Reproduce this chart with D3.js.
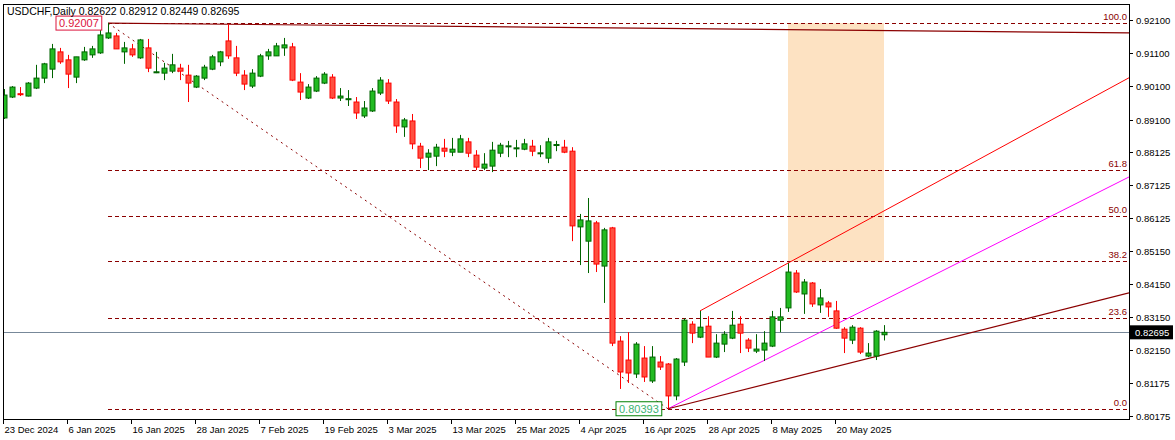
<!DOCTYPE html>
<html><head><meta charset="utf-8">
<script src="https://cdn.jsdelivr.net/npm/d3@7/dist/d3.min.js"></script>
<style>body{margin:0;background:#fff}text{font-family:"Liberation Sans",Arial,sans-serif;font-size:9.5px}</style>
</head><body><div id="chart"></div>
<script>
// OHLC per daily bar
const ohlc=[
[.8915,.9002,.8912,.8984],[.8978,.9011,.8975,.9008],[.8988,.9008,.8981,.8985],[.8981,.9023,.8980,.9020],
[.9005,.9075,.9002,.9035],[.9035,.9081,.9020,.9078],[.9062,.9138,.9035,.9123],[.9114,.9126,.9078,.9084],
[.9090,.9105,.9005,.9047],[.9038,.9099,.9020,.9099],[.9090,.9129,.9087,.9114],[.9105,.9132,.9096,.9123],
[.9111,.9189,.9108,.9165],[.9156,.92007,.9153,.9171],[.9162,.9171,.9123,.9123],[.9114,.9144,.9078,.9126],
[.9123,.9138,.9099,.9105],[.9096,.9153,.9093,.9150],[.9126,.9153,.9053,.9065],[.9052,.9114,.9050,.9054],
[.9050,.9081,.9029,.9065],[.9056,.9108,.9050,.9075],[.9065,.9078,.9029,.9056],[.9044,.9075,.8963,.9020],
[.9008,.9044,.9005,.9041],[.9035,.9075,.9029,.9068],[.9062,.9105,.9059,.9099],[.9084,.9117,.9071,.9114],
[.9147,.9198,.9093,.9102],[.9096,.9132,.9041,.9050],[.9044,.9059,.8999,.9017],[.9011,.9062,.9005,.9050],
[.9041,.9108,.9038,.9102],[.9102,.9123,.9090,.9114],[.9102,.9141,.9102,.9132],[.9126,.9156,.9102,.9135],
[.9129,.9141,.9026,.9029],[.9023,.9050,.8969,.8993],[.8975,.9017,.8972,.9008],[.8996,.9041,.8993,.9035],
[.9020,.9053,.9017,.9047],[.9038,.9047,.8972,.8975],[.8975,.9005,.8966,.8981],[.8971,.8999,.8951,.8973],
[.8963,.8978,.8912,.8930],[.8921,.8966,.8915,.8945],[.8936,.9005,.8933,.8996],[.8990,.9038,.8984,.9029],
[.9020,.9032,.8957,.8966],[.8963,.8972,.8870,.8891],[.8888,.8915,.8858,.8909],[.8906,.8927,.8821,.8837],
[.8830,.8840,.8764,.8794],[.8797,.8821,.8758,.8809],[.8800,.8837,.8770,.8827],[.8824,.8852,.8797,.8815],
[.8812,.8855,.8800,.8821],[.8812,.8864,.8812,.8852],[.8843,.8855,.8797,.8809],[.8803,.8818,.8758,.8767],
[.8764,.8809,.8758,.8776],[.8770,.8843,.8752,.8818],[.8809,.8840,.8797,.8833],[.8829,.8846,.8797,.8831],
[.8824,.8849,.8797,.8825],[.8821,.8852,.8818,.8837],[.8830,.8849,.8800,.8815],[.8808,.8833,.8797,.8810],
[.8794,.8855,.8779,.8843],[.8833,.8846,.8815,.8835],[.8827,.8849,.8809,.8812],[.8815,.8827,.8544,.8590],
[.8587,.8626,.8472,.8608],[.8544,.8674,.8448,.8605],[.8599,.8605,.8451,.8475],[.8469,.8584,.8358,.8578],
[.8584,.8587,.8228,.8237],[.8243,.8258,.8099,.8150],[.8186,.8270,.8117,.8147],[.8144,.8240,.8132,.8234],
[.8192,.8228,.8120,.8135],[.8123,.8228,.8117,.8195],[.8180,.8198,.8156,.8165],[.8174,.8177,.80393,.8078],
[.8078,.8192,.8065,.8189],[.8180,.8312,.8168,.8306],[.8294,.8303,.8237,.8267],[.8255,.8334,.8252,.8285],
[.8288,.8318,.8195,.8195],[.8195,.8264,.8192,.8237],[.8234,.8273,.8210,.8264],[.8252,.8334,.8249,.8291],
[.8294,.8318,.8207,.8267],[.8246,.8252,.8210,.8222],[.8213,.8264,.8207,.8219],[.8216,.8273,.8183,.8237],
[.8228,.8334,.8225,.8316],[.8306,.8343,.8270,.8316],[.8343,.8478,.8331,.8451],[.8448,.8457,.8388,.8391],
[.8385,.8430,.8325,.8421],[.8418,.8421,.8346,.8355],[.8352,.8400,.8328,.8373],[.8358,.8364,.8316,.8346],
[.8334,.8364,.8280,.8282],[.8279,.8285,.8207,.8252],[.8246,.8291,.8234,.8285],[.8282,.8285,.8204,.8210],
[.8198,.8237,.8195,.8207],[.8198,.8276,.8186,.8273],[.82622,.82912,.82449,.82695]];
const dateLabels=["23 Dec 2024","6 Jan 2025","16 Jan 2025","28 Jan 2025","7 Feb 2025","19 Feb 2025","3 Mar 2025","13 Mar 2025","25 Mar 2025","4 Apr 2025","16 Apr 2025","28 Apr 2025","8 May 2025","20 May 2025"];
const priceTicks=[0.921,0.911,0.901,0.891,0.88125,0.87125,0.86125,0.8515,0.8415,0.8315,0.8215,0.81175,0.80175];
const fibHigh=0.92007, fibLow=0.80393;
const fibLevels=[0,23.6,38.2,50,61.8,100];
const fibStart=13, fibEnd=83;
const lastPrice=0.82695;
const trendRed=[[87,0.8334],[98,0.8478]];
const trendMagenta=[[83,0.80393],[140.6,0.8737]];
const trendLow=[[83,0.80393],[140.6,0.8388]];
const trendTop=[[13,0.92007],[140.6,0.9171]];
const zoneBars=[98,110], zonePrices=[0.92007,0.8483];

const W=1175,H=440,L=3,R=1129,T=4,B=419;
const svg=d3.select("#chart").append("svg").attr("width",W).attr("height",H);
const x=d3.scaleLinear().domain([0,110]).range([4,884]);
const y=d3.scaleLinear().domain([0.80175,0.921]).range([416,20]);
svg.append("clipPath").attr("id","c").append("rect").attr("x",L).attr("y",T).attr("width",R-L).attr("height",B-T);
const g=svg.append("g").attr("clip-path","url(#c)");
const xEnd=x.invert(R);
function ext(p){const s=(p[1][1]-p[0][1])/(p[1][0]-p[0][0]);return [[p[0][0],p[0][1]],[xEnd,p[0][1]+s*(xEnd-p[0][0])]];}
const line=d3.line().x(d=>x(d[0])).y(d=>y(d[1]));

g.append("rect").attr("x",x(zoneBars[0])).attr("width",x(zoneBars[1])-x(zoneBars[0]))
 .attr("y",y(zonePrices[0])).attr("height",y(zonePrices[1])-y(zonePrices[0])).attr("fill","#fde2c2");
g.append("line").attr("x1",L).attr("x2",R).attr("y1",Math.round(y(lastPrice))+.5).attr("y2",Math.round(y(lastPrice))+.5).attr("stroke","#778899");
fibLevels.forEach(l=>{const p=fibLow+(fibHigh-fibLow)*l/100;
 g.append("line").attr("x1",x(fibStart)).attr("x2",R).attr("y1",Math.round(y(p))+.5).attr("y2",Math.round(y(p))+.5)
  .attr("stroke","#8b0000").attr("stroke-dasharray","4,3");
 g.append("text").attr("x",R-2).attr("y",Math.round(y(p))-3).attr("text-anchor","end").attr("fill","#8b0000").text(l.toFixed(1));});
g.append("path").attr("d",line([[fibStart,fibHigh],[fibEnd,fibLow]])).attr("stroke","#8b0000").attr("stroke-dasharray","2,4").attr("fill","none");
g.append("path").attr("d",line(ext(trendTop))).attr("stroke","#8b0000").attr("stroke-width",1.2).attr("fill","none");
g.append("path").attr("d",line(ext(trendRed))).attr("stroke","#ff0000").attr("fill","none");
g.append("path").attr("d",line(ext(trendMagenta))).attr("stroke","#ff00ff").attr("fill","none");
g.append("path").attr("d",line(ext(trendLow))).attr("stroke","#8b0000").attr("stroke-width",1.2).attr("fill","none");

const c=g.selectAll(".c").data(ohlc).join("g");
c.append("line").attr("x1",(d,i)=>Math.round(x(i))+.5).attr("x2",(d,i)=>Math.round(x(i))+.5)
 .attr("y1",d=>y(d[1])).attr("y2",d=>y(d[2])).attr("stroke",d=>d[3]>=d[0]?"#006400":"#ff0000");
c.append("rect").attr("x",(d,i)=>Math.round(x(i))-2).attr("width",5)
 .attr("y",d=>y(Math.max(d[0],d[3]))).attr("height",d=>Math.max(1,Math.abs(y(d[0])-y(d[3]))))
 .attr("fill",d=>d[3]>=d[0]?"#22bb22":"#ff5040").attr("stroke",d=>d[3]>=d[0]?"#006400":"#ff0000");

// price tags on the fib anchors
function tag(txt,bx,by,col,tcol){const tg=svg.append("g");
 const r=tg.append("rect").attr("x",bx).attr("y",by).attr("height",14).attr("fill","#fff").attr("stroke",col);
 const t=tg.append("text").attr("x",bx+3).attr("y",by+11).attr("fill",tcol).style("font-size","11px").text(txt);
 r.attr("width",t.node().getComputedTextLength()+6);}
tag("0.92007",x(fibStart)-52,y(fibHigh)-7,"#dc143c","#dc143c");
tag("0.80393",x(fibEnd)-52,y(fibLow)-7,"#008000","#3cb371");

svg.append("rect").attr("x",L+.5).attr("y",T+.5).attr("width",R-L).attr("height",B-T).attr("fill","none").attr("stroke","#000");
priceTicks.forEach(p=>{svg.append("line").attr("x1",R).attr("x2",R+4).attr("y1",Math.round(y(p))+.5).attr("y2",Math.round(y(p))+.5).attr("stroke","#000");
 svg.append("text").attr("x",R+7).attr("y",y(p)+4).text(p.toFixed(5));});
svg.append("rect").attr("x",R+1).attr("y",y(lastPrice)-7).attr("width",43).attr("height",14).attr("fill","#000");
svg.append("text").attr("x",R+6).attr("y",y(lastPrice)+4).attr("fill","#fff").text(lastPrice.toFixed(5));
dateLabels.forEach((s,k)=>{const xx=Math.round(x(k*8))-0.5;
 svg.append("line").attr("x1",xx).attr("x2",xx).attr("y1",B).attr("y2",B+5).attr("stroke","#000");
 svg.append("text").attr("x",xx+1).attr("y",B+14).text(s);});
const last=ohlc[ohlc.length-1];
svg.append("text").attr("x",7).attr("y",15).style("font-size","10.5px").text("USDCHF,Daily  "+last.map(v=>v.toFixed(5)).join(" "));
</script></body></html>
